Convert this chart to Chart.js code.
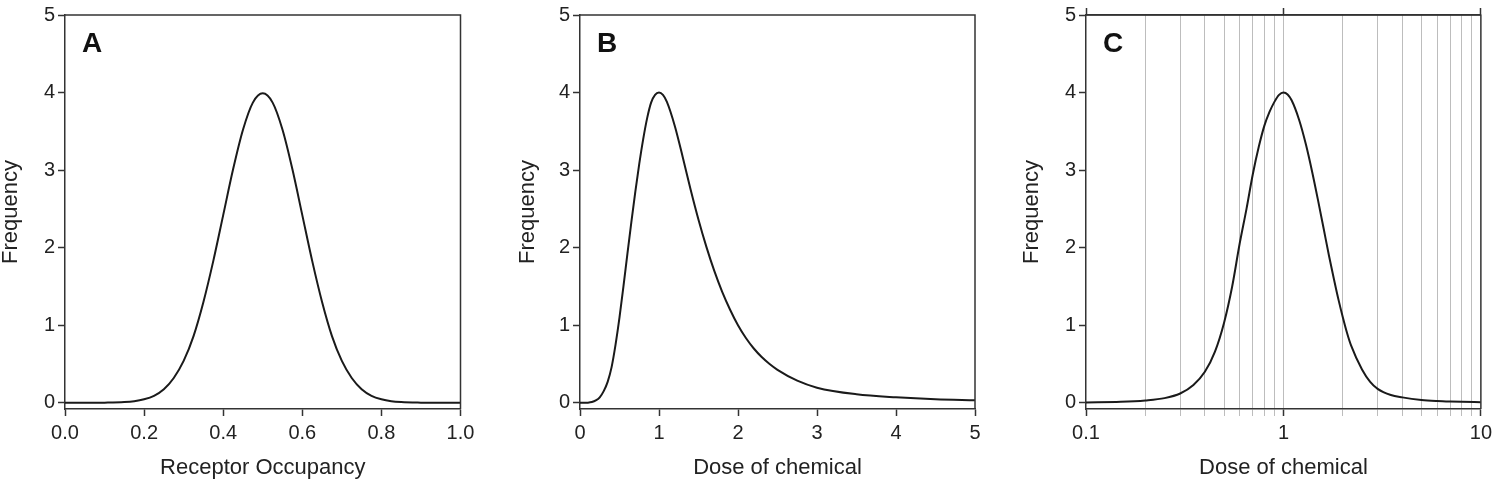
<!DOCTYPE html>
<html><head><meta charset="utf-8">
<script src="https://cdn.jsdelivr.net/npm/chart.js@4.4.1/dist/chart.umd.min.js"></script>
<style>
html,body{margin:0;padding:0;background:#fff;width:1497px;height:479px;overflow:hidden;}
.panel{position:absolute;top:0;height:479px;}
canvas{display:block;}
</style></head><body>
<div class="panel" style="left:0px;width:499px"><canvas id="cA" width="499" height="479"></canvas></div>
<div class="panel" style="left:500px;width:499px"><canvas id="cB" width="499" height="479"></canvas></div>
<div class="panel" style="left:1000px;width:497px"><canvas id="cC" width="497" height="479"></canvas></div>
<script>
// ---------- data ----------
const panelLabels = ['A', 'B', 'C'];
const xTitles = ['Receptor Occupancy', 'Dose of chemical', 'Dose of chemical'];
const yTitle = 'Frequency';

const yTicks = [0, 1, 2, 3, 4, 5];
const xTicksA = [0, 0.2, 0.4, 0.6, 0.8, 1.0];
const xTicksB = [0, 1, 2, 3, 4, 5];
const xGridC = [0.1, 0.2, 0.3, 0.4, 0.5, 0.6, 0.7, 0.8, 0.9, 1, 2, 3, 4, 5, 6, 7, 8, 9, 10];
const xLabelsC = [0.1, 1, 10];

// Panel A: frequency vs receptor occupancy
const occupancy = [0, 0.05, 0.1, 0.15, 0.175, 0.2, 0.225, 0.25, 0.275, 0.3, 0.325, 0.35, 0.375, 0.4, 0.425, 0.45, 0.475, 0.5,
  0.525, 0.55, 0.575, 0.6, 0.625, 0.65, 0.675, 0.7, 0.725, 0.75, 0.775, 0.8, 0.825, 0.85, 0.9, 0.95, 1.0];
const freqA = [0, 0, 0.002, 0.009, 0.02, 0.045, 0.09, 0.175, 0.32, 0.54, 0.86, 1.3, 1.83, 2.42, 3.01, 3.52, 3.87, 3.99,
  3.87, 3.52, 3.01, 2.42, 1.83, 1.3, 0.86, 0.54, 0.32, 0.175, 0.09, 0.045, 0.02, 0.009, 0.002, 0, 0];

// Panel B: frequency vs dose (linear axis)
const doseB = [0, 0.05, 0.1, 0.15, 0.2, 0.25, 0.3, 0.35, 0.4, 0.45, 0.5, 0.55, 0.6, 0.65, 0.7, 0.75, 0.8, 0.85, 0.9, 0.95, 1.0,
  1.05, 1.1, 1.2, 1.3, 1.4, 1.5, 1.6, 1.7, 1.8, 1.9, 2.0, 2.1, 2.2, 2.3, 2.4, 2.5, 2.75, 3.0, 3.5, 4.0, 4.5, 5.0];
const freqB = [0, 0, 0.002, 0.01, 0.03, 0.07, 0.15, 0.27, 0.46, 0.75, 1.1, 1.5, 1.92, 2.33, 2.72, 3.08, 3.4, 3.67, 3.87, 3.97, 4.0,
  3.97, 3.88, 3.57, 3.17, 2.75, 2.36, 2.01, 1.70, 1.43, 1.20, 1.0, 0.835, 0.70, 0.59, 0.50, 0.425, 0.285, 0.195, 0.11, 0.07, 0.045, 0.034];

// Panel C: frequency vs dose (log axis)
const doseC = [0.1, 0.15, 0.2, 0.25, 0.3, 0.35, 0.4, 0.45, 0.5, 0.55, 0.6, 0.65, 0.7, 0.75, 0.8, 0.85, 0.9, 0.95, 1.0,
  1.05, 1.1, 1.2, 1.3, 1.4, 1.5, 1.6, 1.7, 1.8, 1.9, 2.0, 2.1, 2.2, 2.5, 2.75, 3.0, 3.5, 4.0, 5.0, 6.0, 7.0, 8.0, 10.0];
const freqC = [0.005, 0.012, 0.03, 0.06, 0.12, 0.23, 0.4, 0.66, 1.03, 1.5, 2.05, 2.5, 2.95, 3.3, 3.57, 3.75, 3.88, 3.97, 4.0,
  3.975, 3.9, 3.65, 3.33, 2.97, 2.6, 2.24, 1.9, 1.6, 1.33, 1.1, 0.9, 0.74, 0.43, 0.27, 0.18, 0.1, 0.07, 0.037, 0.023, 0.016, 0.012, 0.008];

// ---------- styling ----------
const FONT = 'Liberation Sans, Arial, Helvetica, sans-serif';
const AXIS = '#333333';
const TEXT = '#222222';
const GRID = '#bdbdbd';

function framePlugin(letter) {
  return {
    id: 'frame' + letter,
    afterDatasetsDraw(chart) {
      const a = chart.chartArea, c = chart.ctx;
      c.save();
      c.strokeStyle = AXIS; c.lineWidth = 1.5;
      c.beginPath();
      c.moveTo(a.left, a.top); c.lineTo(a.right, a.top); c.lineTo(a.right, a.bottom);
      c.stroke();
      c.fillStyle = '#111';
      c.font = 'bold 28px ' + FONT;
      c.textBaseline = 'alphabetic'; c.textAlign = 'left';
      c.fillText(letter, a.left + 17, 52);
      c.restore();
    }
  };
}

function makePanel(id, cfg) {
  const pts = cfg.xs.map((x, i) => ({ x: x, y: cfg.ys[i] }));
  const isLog = cfg.xType === 'logarithmic';
  const isMajor = v => cfg.xLabels.includes(v);
  const scales = {
    x: {
      type: cfg.xType, position: 'bottom', min: cfg.xMin, max: cfg.xMax,
      afterBuildTicks: s => { s.ticks = cfg.xGrid.map(v => ({ value: v })); },
      afterFit: s => { s.height = 70; },
      ticks: {
        autoSkip: false, maxRotation: 0, minRotation: 0, padding: 5,
        font: { family: FONT, size: 20 }, color: TEXT,
        callback: v => isMajor(v) ? cfg.fmt(v) : ''
      },
      grid: isLog ? {
        drawOnChartArea: true, drawTicks: true, tickLength: 7,
        color: ctx => (ctx.tick && (ctx.tick.value === 0.1 || ctx.tick.value === 10)) ? 'rgba(0,0,0,0)' : GRID,
        lineWidth: 1,
        tickColor: ctx => (ctx.tick && isMajor(ctx.tick.value)) ? AXIS : GRID,
        tickWidth: ctx => (ctx.tick && isMajor(ctx.tick.value)) ? 1.5 : 1
      } : { drawOnChartArea: false, drawTicks: true, tickLength: 7, tickColor: AXIS, tickWidth: 1.5 },
      border: { display: true, color: AXIS, width: 1.5 },
      title: { display: true, text: cfg.xTitle, color: TEXT, font: { family: FONT, size: 22, lineHeight: 1 }, padding: 0 }
    },
    y: {
      type: 'linear', position: 'left', min: -0.08, max: 5,
      afterBuildTicks: s => { s.ticks = yTicks.map(v => ({ value: v })); },
      afterFit: s => { s.width = cfg.yWidth; },
      ticks: { padding: 3, font: { family: FONT, size: 20 }, color: TEXT, callback: v => String(v) },
      grid: { drawOnChartArea: false, drawTicks: true, tickLength: 7, tickColor: AXIS, tickWidth: 1.5 },
      border: { display: true, color: AXIS, width: 1.5 },
      title: { display: true, text: yTitle, color: TEXT, font: { family: FONT, size: 22, lineHeight: 1 }, padding: 0 }
    }
  };
  if (isLog) {
    scales.xTop = {
      type: 'logarithmic', position: 'top', min: cfg.xMin, max: cfg.xMax,
      afterBuildTicks: s => { s.ticks = cfg.xGrid.map(v => ({ value: v })); },
      afterFit: s => { s.height = 7; },
      ticks: { display: false },
      grid: {
        drawOnChartArea: false, drawTicks: true, tickLength: 7,
        tickColor: ctx => (ctx.tick && isMajor(ctx.tick.value)) ? AXIS : 'rgba(0,0,0,0)', tickWidth: 1.5
      },
      border: { display: true, color: AXIS, width: 1.5 }
    };
  }
  new Chart(document.getElementById(id), {
    type: 'line',
    data: { datasets: [{ data: pts, borderColor: '#1a1a1a', borderWidth: 2, pointRadius: 0,
      cubicInterpolationMode: 'monotone', fill: false, clip: false }] },
    options: {
      responsive: false, animation: false, events: [],
      layout: { padding: { left: cfg.padLeft, right: cfg.padRight, top: isLog ? 7 : 14, bottom: 0 } },
      plugins: { legend: { display: false }, tooltip: { enabled: false }, title: { display: false } },
      scales: scales
    },
    plugins: [framePlugin(cfg.letter)]
  });
}

makePanel('cA', { letter: panelLabels[0], xTitle: xTitles[0], xs: occupancy, ys: freqA, xType: 'linear', xMin: 0, xMax: 1,
  xGrid: xTicksA, xLabels: xTicksA, fmt: v => v.toFixed(1), padLeft: 0, padRight: 38.5, yWidth: 65 });
makePanel('cB', { letter: panelLabels[1], xTitle: xTitles[1], xs: doseB, ys: freqB, xType: 'linear', xMin: 0, xMax: 5,
  xGrid: xTicksB, xLabels: xTicksB, fmt: v => String(v), padLeft: 17, padRight: 24, yWidth: 63 });
makePanel('cC', { letter: panelLabels[2], xTitle: xTitles[2], xs: doseC, ys: freqC, xType: 'logarithmic', xMin: 0.1, xMax: 10,
  xGrid: xGridC, xLabels: xLabelsC, fmt: v => String(v), padLeft: 21, padRight: 15, yWidth: 65 });
</script>
</body></html>
